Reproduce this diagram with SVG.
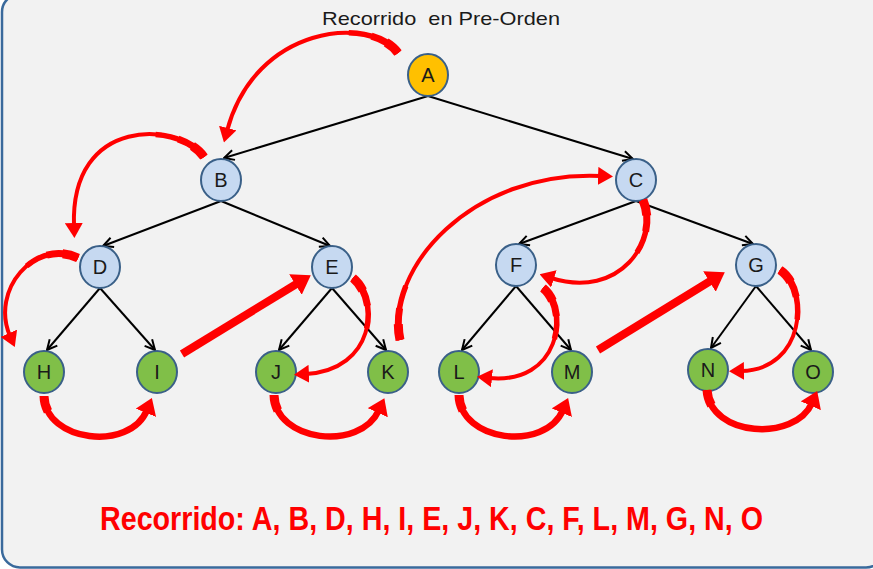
<svg xmlns="http://www.w3.org/2000/svg" xmlns:xlink="http://www.w3.org/1999/xlink" width="873" height="569" viewBox="0 0 873 569">
<style>
.nd{stroke:#3A6088;stroke-width:2}
.root{fill:#FFC000}
.inner{fill:#C6D9F1}
.leaf{fill:#80BF48}
.lbl{font-family:"Liberation Sans",Arial,sans-serif;font-size:20px;fill:#1a1a1a;text-anchor:middle}
.edge{stroke:#000;stroke-width:2;fill:none;marker-end:url(#open)}
.red{stroke:#FF0000;fill:none;stroke-linecap:butt}
.m{stroke-width:4;marker-end:url(#rh)}
.mb{stroke-width:6.5;marker-end:url(#rhb)}
.t1{stroke-width:9;stroke-dasharray:16 3000}
.t2{stroke-width:7;stroke-dasharray:32 3000}
.t3{stroke-width:5.5;stroke-dasharray:55 3000}
.st{stroke-width:8;marker-end:url(#rhs)}
</style>
<defs>
<marker id="open" markerUnits="userSpaceOnUse" viewBox="0 0 12 12" refX="11" refY="6" markerWidth="12" markerHeight="12" orient="auto">
<path d="M1,1 L11,6 L1,11" fill="none" stroke="#000" stroke-width="2"/>
</marker>
<marker id="rh" markerUnits="userSpaceOnUse" viewBox="0 0 15 18" refX="3" refY="9" markerWidth="15" markerHeight="18" orient="auto">
<path d="M0,0 L15,9 L0,18 z" fill="#FF0000"/>
</marker>
<marker id="rhb" markerUnits="userSpaceOnUse" viewBox="0 0 16 22" refX="3" refY="11" markerWidth="16" markerHeight="22" orient="auto">
<path d="M0,0 L16,11 L0,22 z" fill="#FF0000"/>
</marker>
<marker id="rhs" markerUnits="userSpaceOnUse" viewBox="0 0 18 24" refX="3" refY="12" markerWidth="18" markerHeight="24" orient="auto">
<path d="M0,0 L18,12 L0,24 z" fill="#FF0000"/>
</marker>
<path id="pAB" d="M398,53 C370,15 255,25 227,131"/>
<path id="pBD" d="M204,157 C180,122 70,115 74,226"/>
<path id="pDH" d="M78,258 C35,238 -10,290 10,336"/>
<path id="pHI" d="M44,396 C45,442 130,452 147,410"/>
<path id="pEJ" d="M353,278 C380,300 375,370 306,374"/>
<path id="pJK" d="M274,395 C275,442 360,452 379,410"/>
<path id="pKC" d="M400,340 C385,270 470,170 601,176"/>
<path id="pCF" d="M643,200 C660,240 620,300 551,278"/>
<path id="pFL" d="M543,288 C570,310 560,385 489,378"/>
<path id="pLM" d="M459,395 C460,442 545,452 563,410"/>
<path id="pGN" d="M780,270 C810,290 805,370 741,371"/>
<path id="pNO" d="M707,390 C710,437 795,442 812,403"/>
</defs>
<rect x="0" y="0" width="873" height="569" fill="#FFFFFF"/>
<rect x="2" y="-6" width="882" height="573.5" rx="18" fill="#F2F2F2" stroke="#3A6A9C" stroke-width="2.5"/>
<text x="441" y="25" font-family="'Liberation Sans',Arial,sans-serif" font-size="19" fill="#1a1a1a" text-anchor="middle" textLength="238" lengthAdjust="spacingAndGlyphs" xml:space="preserve">Recorrido  en Pre-Orden</text>
<g id="connectors">
<line class="edge" x1="428" y1="96" x2="224" y2="158"/>
<line class="edge" x1="428" y1="96" x2="633" y2="159"/>
<line class="edge" x1="221" y1="201" x2="103" y2="246"/>
<line class="edge" x1="221" y1="201" x2="330" y2="246"/>
<line class="edge" x1="636" y1="201" x2="519" y2="244"/>
<line class="edge" x1="636" y1="201" x2="753" y2="244"/>
<line class="edge" x1="100" y1="288" x2="47" y2="350"/>
<line class="edge" x1="100" y1="288" x2="155" y2="350"/>
<line class="edge" x1="332" y1="288" x2="279" y2="350"/>
<line class="edge" x1="332" y1="288" x2="386" y2="350"/>
<line class="edge" x1="516" y1="286" x2="462" y2="350"/>
<line class="edge" x1="516" y1="286" x2="571" y2="350"/>
<line class="edge" x1="756" y1="286" x2="711" y2="348"/>
<line class="edge" x1="756" y1="286" x2="811" y2="350"/>
</g>
<g id="nodes">
<g id="nA"><ellipse class="nd root" cx="428" cy="75" rx="20" ry="21"/><text class="lbl" x="428" y="82">A</text></g>
<g id="nB"><ellipse class="nd inner" cx="221" cy="180" rx="20" ry="21"/><text class="lbl" x="221" y="187">B</text></g>
<g id="nC"><ellipse class="nd inner" cx="636" cy="180" rx="20" ry="21"/><text class="lbl" x="636" y="187">C</text></g>
<g id="nD"><ellipse class="nd inner" cx="100" cy="267" rx="20" ry="21"/><text class="lbl" x="100" y="274">D</text></g>
<g id="nE"><ellipse class="nd inner" cx="332" cy="267" rx="20" ry="21"/><text class="lbl" x="332" y="274">E</text></g>
<g id="nF"><ellipse class="nd inner" cx="516" cy="265" rx="20" ry="21"/><text class="lbl" x="516" y="272">F</text></g>
<g id="nG"><ellipse class="nd inner" cx="756" cy="265" rx="20" ry="21"/><text class="lbl" x="756" y="272">G</text></g>
<g id="nH"><ellipse class="nd leaf" cx="44" cy="372" rx="20" ry="21"/><text class="lbl" x="44" y="379">H</text></g>
<g id="nI"><ellipse class="nd leaf" cx="157" cy="372" rx="20" ry="21"/><text class="lbl" x="157" y="379">I</text></g>
<g id="nJ"><ellipse class="nd leaf" cx="276" cy="372" rx="20" ry="21"/><text class="lbl" x="276" y="379">J</text></g>
<g id="nK"><ellipse class="nd leaf" cx="388" cy="372" rx="20" ry="21"/><text class="lbl" x="388" y="379">K</text></g>
<g id="nL"><ellipse class="nd leaf" cx="459" cy="372" rx="20" ry="21"/><text class="lbl" x="459" y="379">L</text></g>
<g id="nM"><ellipse class="nd leaf" cx="572" cy="372" rx="20" ry="21"/><text class="lbl" x="572" y="379">M</text></g>
<g id="nN"><ellipse class="nd leaf" cx="708" cy="370" rx="20" ry="21"/><text class="lbl" x="708" y="377">N</text></g>
<g id="nO"><ellipse class="nd leaf" cx="813" cy="372" rx="20" ry="21"/><text class="lbl" x="813" y="379">O</text></g>
</g>
<g id="traversal">
<use xlink:href="#pAB" class="red m"/><use xlink:href="#pAB" class="red t3"/><use xlink:href="#pAB" class="red t2"/><use xlink:href="#pAB" class="red t1"/>
<use xlink:href="#pBD" class="red m"/><use xlink:href="#pBD" class="red t3"/><use xlink:href="#pBD" class="red t2"/><use xlink:href="#pBD" class="red t1"/>
<use xlink:href="#pDH" class="red m"/><use xlink:href="#pDH" class="red t3"/><use xlink:href="#pDH" class="red t2"/><use xlink:href="#pDH" class="red t1"/>
<use xlink:href="#pHI" class="red mb"/><use xlink:href="#pHI" class="red t1"/>
<line class="red st" x1="182" y1="354" x2="298" y2="283"/>
<use xlink:href="#pEJ" class="red m"/><use xlink:href="#pEJ" class="red t3"/><use xlink:href="#pEJ" class="red t2"/><use xlink:href="#pEJ" class="red t1"/>
<use xlink:href="#pJK" class="red mb"/><use xlink:href="#pJK" class="red t1"/>
<use xlink:href="#pKC" class="red m"/><use xlink:href="#pKC" class="red t3"/><use xlink:href="#pKC" class="red t2"/><use xlink:href="#pKC" class="red t1"/>
<use xlink:href="#pCF" class="red m"/><use xlink:href="#pCF" class="red t3"/><use xlink:href="#pCF" class="red t2"/><use xlink:href="#pCF" class="red t1"/>
<use xlink:href="#pFL" class="red m"/><use xlink:href="#pFL" class="red t3"/><use xlink:href="#pFL" class="red t2"/><use xlink:href="#pFL" class="red t1"/>
<use xlink:href="#pLM" class="red mb"/><use xlink:href="#pLM" class="red t1"/>
<line class="red st" x1="598" y1="350" x2="712" y2="280"/>
<use xlink:href="#pGN" class="red m"/><use xlink:href="#pGN" class="red t3"/><use xlink:href="#pGN" class="red t2"/><use xlink:href="#pGN" class="red t1"/>
<use xlink:href="#pNO" class="red mb"/><use xlink:href="#pNO" class="red t1"/>
</g>
<text x="100" y="530" font-family="'Liberation Sans',Arial,sans-serif" font-size="33" font-weight="bold" fill="#FF0000" textLength="663" lengthAdjust="spacingAndGlyphs">Recorrido: A, B, D, H, I, E, J, K, C, F, L, M, G, N, O</text>
</svg>
